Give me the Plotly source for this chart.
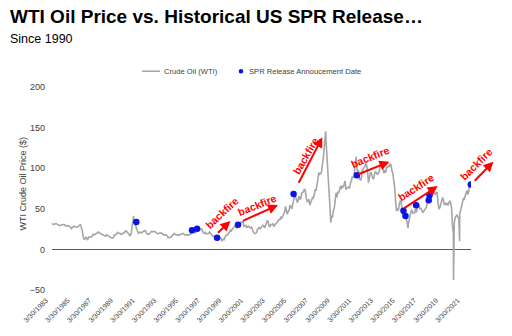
import plotly.graph_objects as go
import pandas as pd

# ---------------- data ----------------
# WTI monthly averages, Apr 1983 - Dec 1989
wti_1983_1989 = [
    31.5, 30.8, 31.0, 31.7, 31.9, 31.1, 30.4, 29.8, 29.2,
    29.7, 30.1, 30.8, 30.6, 30.5, 29.8, 28.8, 29.3, 29.3, 28.8, 28.1, 26.4,
    25.6, 27.3, 28.2, 28.8, 27.6, 27.1, 27.3, 27.8, 28.3, 29.5, 30.8, 27.2,
    22.9, 15.4, 12.6, 12.8, 15.4, 13.5, 11.6, 15.1, 14.9, 14.9, 15.2, 16.1,
    18.7, 17.7, 18.3, 18.6, 19.4, 20.0, 21.4, 20.3, 19.5, 19.8, 18.9, 17.2,
    17.1, 16.7, 16.2, 17.9, 17.4, 16.5, 15.5, 15.5, 14.5, 13.8, 14.0, 16.3,
    18.0, 17.8, 19.4, 21.0, 20.0, 20.0, 19.6, 18.5, 19.6, 20.1, 19.8, 21.1,
]
wti_1990_1999 = [
    22.9, 22.1, 20.4, 18.4, 18.2, 16.9, 18.6, 27.2, 33.7, 35.9, 32.3, 27.3,
    25.2, 20.5, 19.9, 20.8, 21.2, 20.2, 21.4, 21.7, 21.9, 23.2, 22.5, 19.5,
    18.8, 19.0, 18.9, 20.2, 20.9, 22.4, 21.8, 21.4, 21.9, 21.7, 20.3, 19.4,
    19.1, 20.1, 20.3, 20.3, 19.9, 19.1, 17.9, 18.0, 17.5, 18.1, 16.7, 14.5,
    15.0, 14.8, 14.7, 16.4, 17.9, 19.1, 19.7, 18.4, 17.5, 17.7, 18.1, 17.2,
    18.0, 18.5, 18.6, 19.9, 19.7, 18.4, 17.3, 18.0, 18.2, 17.4, 18.0, 19.0,
    18.9, 19.1, 21.3, 23.5, 21.2, 20.4, 21.3, 22.0, 24.0, 24.9, 23.7, 25.4,
    25.2, 22.2, 20.9, 19.7, 20.8, 19.2, 19.6, 19.9, 19.8, 21.3, 20.2, 18.3,
    16.7, 16.1, 15.0, 15.4, 14.9, 13.7, 14.2, 13.5, 15.0, 14.4, 12.9, 11.3,
    12.5, 12.0, 14.7, 17.3, 17.8, 17.9, 20.1, 21.3, 23.9, 22.6, 25.0, 26.1,
]
wti_2000_2009 = [
    27.2, 29.4, 29.9, 25.7, 28.8, 31.8, 29.8, 31.2, 33.9, 33.1, 34.4, 28.4,
    29.6, 29.6, 27.2, 27.4, 28.6, 27.6, 26.4, 27.4, 26.2, 22.2, 19.6, 19.4,
    19.7, 20.7, 24.5, 26.2, 27.0, 25.5, 26.9, 28.4, 29.7, 28.9, 26.3, 29.4,
    32.9, 35.9, 33.6, 28.3, 28.1, 30.7, 30.8, 31.6, 28.3, 30.3, 31.1, 32.1,
    34.3, 34.7, 36.7, 36.7, 40.3, 38.0, 40.7, 44.9, 45.9, 53.1, 48.5, 43.2,
    46.8, 48.1, 54.2, 53.0, 49.8, 56.3, 58.7, 65.0, 65.6, 62.3, 58.3, 59.4,
    65.5, 61.6, 62.7, 69.4, 70.8, 70.9, 74.4, 73.0, 63.8, 58.9, 59.1, 62.0,
    54.5, 59.3, 60.4, 63.9, 63.5, 67.5, 74.1, 72.4, 79.9, 85.8, 94.8, 91.7,
    93.0, 95.4, 105.5, 112.6, 125.4, 133.9, 133.4, 116.7, 104.1, 76.6, 57.3, 41.1,
    41.7, 39.1, 47.9, 49.7, 59.0, 69.6, 64.2, 71.1, 69.4, 75.7, 78.0, 74.5,
]
# Jan 2010 - Nov 2021
wti_2010_2021 = [
    78.3, 76.4, 81.2, 84.3, 73.7, 75.3, 76.3, 76.6, 75.2, 81.9, 84.3, 89.2,
    89.2, 88.6, 102.9, 109.5, 100.9, 96.3, 97.3, 86.3, 85.5, 86.3, 97.2, 98.6,
    100.3, 102.2, 106.2, 103.3, 94.7, 82.3, 87.9, 94.1, 94.5, 89.5, 86.5, 87.9,
    94.8, 95.3, 92.9, 92.0, 94.5, 95.8, 104.6, 106.6, 106.3, 100.5, 93.9, 97.6,
    94.6, 100.8, 100.8, 102.1, 102.2, 105.8, 103.6, 96.5, 93.2, 84.4, 75.8, 59.3,
    47.2, 50.6, 47.8, 54.5, 59.3, 59.8, 50.9, 42.9, 45.5, 46.2, 42.4, 37.2,
    31.7, 30.3, 37.5, 40.8, 46.7, 48.8, 44.7, 44.7, 45.2, 49.8, 45.7, 52.0,
    52.5, 53.5, 49.3, 51.1, 48.5, 45.2, 46.6, 48.0, 49.8, 51.6, 56.6, 57.9,
    63.7, 62.2, 62.7, 66.3, 70.0, 67.9, 71.0, 68.1, 70.2, 70.8, 57.0, 49.5,
    51.4, 55.0, 58.2, 63.9, 60.8, 54.7, 57.4, 54.8, 57.0, 54.0, 57.0, 59.9,
    57.5, 50.5, 29.2, 20.0, 33.0, 39.5, 40.7, 42.3, 39.6, 38.5, 44.0, 48.0,
    53.0, 60.0, 62.3, 61.7, 65.2, 71.4, 72.5, 67.7, 71.6, 81.5, 79.2,
]
# daily extremes visible in the picture
wti_extreme_dates = ["1983-03-30", "1990-10-11", "1998-12-10", "2008-07-03",
                     "2008-12-22", "2011-04-29", "2016-02-11", "2020-04-20",
                     "2020-11-10"]
wti_extreme_values = [32.0, 41.0, 10.8, 145.3, 33.0, 113.9, 26.2, -37.6, 10.0]

# SPR release announcement dates and prices
spr_dates = ["1991-01-10", "1996-03-01", "1996-08-18", "1998-06-25",
             "2000-05-30", "2005-07-16", "2011-05-19", "2015-09-06",
             "2015-11-14", "2016-11-06", "2018-01-04", "2018-01-30",
             "2021-11-23"]
spr_prices = [33.7, 23.6, 25.5, 14.2, 30.4, 68.1, 91.2, 47.5, 41.0, 54.4,
              60.5, 66.5, 79.9]

# "backfire" arrows: tail -> head, and label position / angle
arrow_tail_dates = ["1998-06-03", "2000-09-20", "2005-12-10", "2011-05-19",
                    "2015-08-15", "2022-02-15"]
arrow_tail_prices = [19, 34.5, 81, 92, 50, 83]
arrow_head_dates = ["1999-09-15", "2004-02-05", "2008-03-10", "2014-05-22",
                    "2018-11-02", "2023-12-25"]
arrow_head_prices = [35, 54.7, 138, 108, 78, 108]
label_dates = ["1998-11-28", "2002-02-28", "2006-08-15", "2012-07-30",
               "2016-11-18", "2022-05-20"]
label_prices = [44.6, 54.4, 115.6, 113.6, 76.3, 105.1]
label_angles = [-43, -22, -60, -22, -33, -45]

tick_years = list(range(1983, 2022, 2))
tick_labels = [f"3/30/{y}" for y in tick_years]

X_RANGE = ["1983-03-30", "2021-11-30"]
Y_RANGE = [-50, 200]

# ---------------- build series ----------------
monthly = wti_1983_1989 + wti_1990_1999 + wti_2000_2009 + wti_2010_2021
monthly_dates = []
y, m = 1983, 4
for _ in monthly:
    monthly_dates.append(f"{y}-{m:02d}-15")
    m += 1
    if m > 12:
        m = 1
        y += 1
pts = sorted(zip(monthly_dates + wti_extreme_dates, monthly + wti_extreme_values))
wti_dates = [p[0] for p in pts]
wti_vals = [p[1] for p in pts]

# plot area geometry (px) used to place annotations that sit beyond the axis range
L, R, T, B = 52, 41, 87, 43
PW, PH = 512 - L - R, 336 - T - B
x0, x1 = pd.Timestamp(X_RANGE[0]), pd.Timestamp(X_RANGE[1])


def xp(d):
    return (pd.Timestamp(d) - x0) / (x1 - x0)


def yp(v):
    return (v - Y_RANGE[0]) / (Y_RANGE[1] - Y_RANGE[0])


FONT = "Liberation Sans, Arial, sans-serif"
NARROW = "Liberation Sans Narrow, Liberation Sans, Arial, sans-serif"
RED = "#ff0000"
BLUE = "#0a14e6"
GREY = "#a6a6a6"

fig = go.Figure()
fig.add_trace(go.Scatter(x=wti_dates, y=wti_vals, mode="lines",
                         name="Crude Oil (WTI)", showlegend=False,
                         line=dict(color=GREY, width=1.6)))
fig.add_trace(go.Scatter(x=spr_dates, y=spr_prices, mode="markers",
                         name="SPR Release Annoucement Date", showlegend=False,
                         marker=dict(color=BLUE, size=6.5)))

annotations = []
for td, tp, hd, hp in zip(arrow_tail_dates, arrow_tail_prices,
                          arrow_head_dates, arrow_head_prices):
    hx, hy = xp(hd), yp(hp)
    tx, ty = xp(td), yp(tp)
    annotations.append(dict(x=hx, y=hy, xref="paper", yref="paper",
                            ax=(tx - hx) * PW, ay=-(ty - hy) * PH,
                            axref="pixel", ayref="pixel", text="", showarrow=True,
                            arrowhead=2, arrowsize=1, arrowwidth=2,
                            arrowcolor=RED, standoff=0, startstandoff=0))
for ld, lp, la in zip(label_dates, label_prices, label_angles):
    annotations.append(dict(x=xp(ld), y=yp(lp), xref="paper", yref="paper",
                            xanchor="center", yanchor="middle",
                            text="<b>backfire</b>", showarrow=False, textangle=la,
                            font=dict(family=FONT, size=10.5, color=RED)))

annotations += [
    dict(xref="paper", yref="paper", x=(8 - L) / PW, y=(336 - B - 15) / PH,
         xanchor="left", yanchor="middle", showarrow=False,
         text="<b>WTI Oil Price vs. Historical US SPR Release…</b>",
         font=dict(family=FONT, size=19, color="#000000")),
    dict(xref="paper", yref="paper", x=(8 - L) / PW, y=(336 - B - 38.5) / PH,
         xanchor="left", yanchor="middle", showarrow=False,
         text="Since 1990", font=dict(family=FONT, size=12.5, color="#000000")),
    dict(xref="paper", yref="paper", x=(23 - L) / PW, y=(336 - B - 185) / PH,
         xanchor="center", yanchor="middle", showarrow=False, textangle=-90,
         text="WTI Crude Oil Price ($)",
         font=dict(family=NARROW, size=9, color="#404040")),
    # legend texts
    dict(xref="paper", yref="paper", x=(162 - L) / PW, y=(336 - B - 71) / PH,
         xanchor="left", yanchor="middle", showarrow=False,
         text="Crude Oil (WTI)", font=dict(family=NARROW, size=7.6, color="#404040")),
    dict(xref="paper", yref="paper", x=(247 - L) / PW, y=(336 - B - 71) / PH,
         xanchor="left", yanchor="middle", showarrow=False,
         text="SPR Release Annoucement Date",
         font=dict(family=NARROW, size=7.6, color="#404040")),
]

ly = (336 - B - 71) / PH
shapes = [
    dict(type="line", xref="paper", yref="paper", x0=(142 - L) / PW,
         x1=(160 - L) / PW, y0=ly, y1=ly, line=dict(color=GREY, width=1.5)),
    dict(type="circle", xref="paper", yref="paper",
         x0=(241 - 2.3 - L) / PW, x1=(241 + 2.3 - L) / PW,
         y0=ly - 2.3 / PH, y1=ly + 2.3 / PH,
         fillcolor=BLUE, line=dict(width=0)),
]

fig.update_layout(
    width=512, height=336,
    margin=dict(l=L, r=R, t=T, b=B),
    paper_bgcolor="white", plot_bgcolor="white",
    showlegend=False,
    annotations=annotations,
    shapes=shapes,
    xaxis=dict(type="date", range=X_RANGE,
               tickvals=[f"{y}-03-30" for y in tick_years], ticktext=tick_labels,
               tickangle=-45, tickfont=dict(family=NARROW, size=7, color="#404040"),
               ticklabelshift=-6, ticklabelstandoff=4,
               showgrid=False, zeroline=False, showline=False, ticks=""),
    yaxis=dict(range=Y_RANGE, dtick=50, showgrid=False,
               zeroline=True, zerolinecolor="#595959", zerolinewidth=1,
               showline=False, ticks="", ticklabelstandoff=6,
               tickfont=dict(family=NARROW, size=9, color="#404040")),
)

fig.write_html("out.html")
